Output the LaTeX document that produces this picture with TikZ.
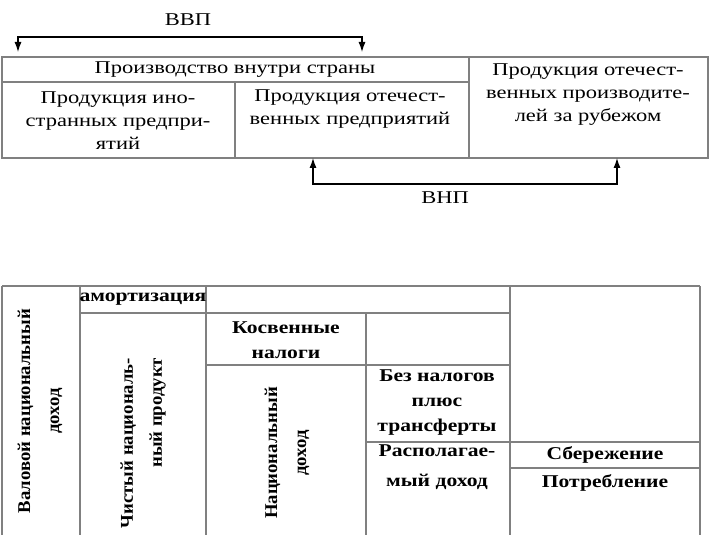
\documentclass[tikz,border=0pt]{standalone}
\usepackage{fontspec}
\setmainfont{Liberation Serif}
\newfontfamily\wideserif[FakeStretch=1.25]{Liberation Serif}
\newfontfamily\widebold[FakeStretch=1.2]{Liberation Serif Bold}
\newfontfamily\narrowbold[FakeStretch=1.04]{Liberation Serif Bold}
\usetikzlibrary{positioning,arrows.meta}

\tikzset{
    cell/.style={align=center, inner sep=0pt, font=\wideserif\fontsize{18}{23}\selectfont},
    bcell/.style={align=center, inner sep=0pt, font=\widebold\fontsize{18}{25}\selectfont},
    rcell/.style={bcell, rotate=90, font=\narrowbold\fontsize{18}{29}\selectfont},
    rule/.style={draw=black!50, line width=1.3pt},
    brace/.style={line width=1.2pt, {Latex[length=10pt,width=7pt]}-{Latex[length=10pt,width=7pt]}},
}

\begin{document}
\begin{tikzpicture}[x=1pt, y=-1pt]
    \useasboundingbox (0,0) rectangle (720,540);

    % upper table
    \draw [rule] (2,57) rectangle (708,158);
    \draw [rule] (2,82) -- (469,82);
    \draw [rule] (469,57) -- (469,158);
    \draw [rule] (235,82) -- (235,158);

    \node [cell] (inside) at (235,70) {Производство внутри страны};
    \node [cell] (foreign) at (118,121) {Продукция ино-\\странных предпри-\\ятий};
    \node [cell] (home) at (350,109) {Продукция отечест-\\венных предприятий};
    \node [cell] (abroad) at (588,95) {Продукция отечест-\\венных производите-\\лей за рубежом};

    % GDP and GNP brackets
    \coordinate (gdp1) at (18,52);
    \coordinate (gdp2) at (362,52);
    \coordinate (gnp1) at (313,158);
    \coordinate (gnp2) at (617,158);
    \draw [brace] (gdp1) -- ++(0,-15) -| (gdp2);
    \draw [brace] (gnp1) -- ++(0,26) -| (gnp2);
    \node [cell] (gdp) at (188,20) {ВВП};
    \node [cell] (gnp) at (445,198) {ВНП};

    % lower table
    \draw [rule] (2,286) -- (700,286);
    \foreach \x in {2,80,206,510,700}
        \draw [rule] (\x,286) -- (\x,535);
    \draw [rule] (366,313) -- (366,535);
    \draw [rule] (80,313) -- (510,313);
    \draw [rule] (206,365) -- (510,365);
    \draw [rule] (366,442) -- (700,442);
    \draw [rule] (510,468) -- (700,468);

    \node [rcell] (gross) at (40,411) {Валовой национальный\\доход};
    \node [bcell] (amort) at (143,299) {амортизация};
    \node [rcell, align=right] (net) at (143,443) {Чистый националь-\\ный продукт};
    \node [bcell] (indirect) at (286,340) {Косвенные\\налоги};
    \node [rcell] (national) at (287,453) {Национальный\\доход};
    \node [bcell] (transfers) at (437,403) {Без налогов\\плюс\\трансферты};
    \node [bcell, font=\widebold\fontsize{18}{30}\selectfont] (disposable) at (437,467) {Располагае-\\мый доход};
    \node [bcell] (saving) at (605,455) {Сбережение};
    \node [bcell] (consumption) at (605,483) {Потребление};
\end{tikzpicture}
\end{document}
